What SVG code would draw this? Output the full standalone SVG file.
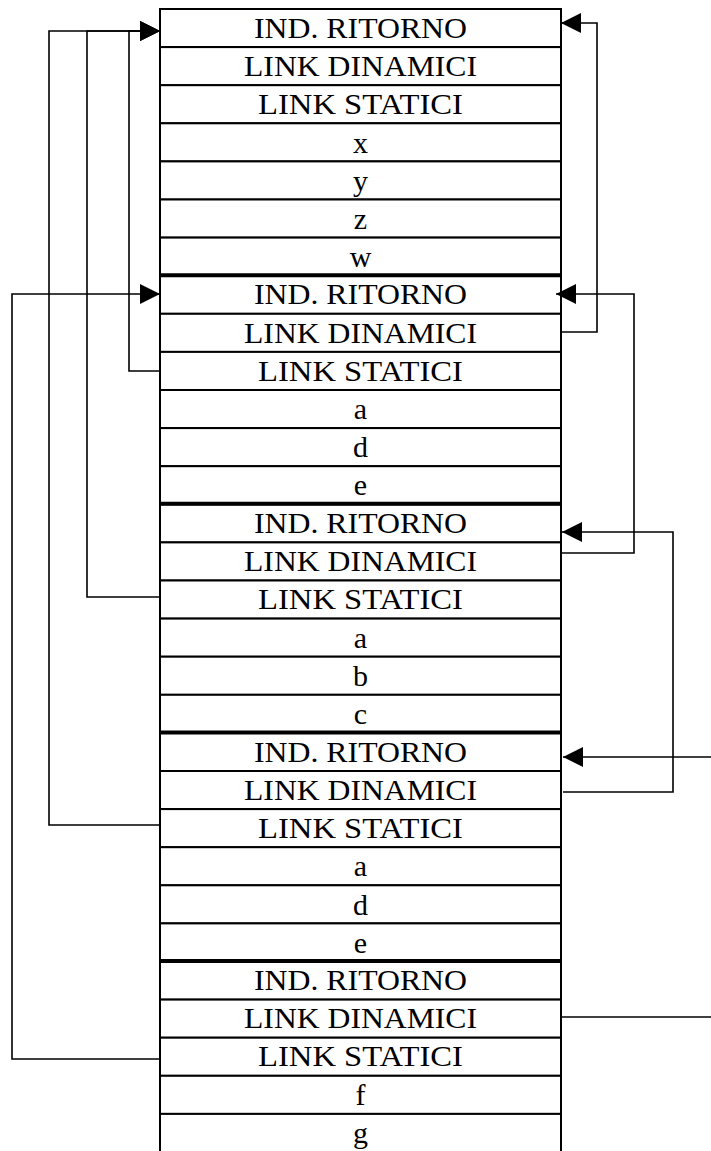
<svg xmlns="http://www.w3.org/2000/svg" width="711" height="1151" viewBox="0 0 711 1151">
<style>
.cell rect{fill:#fff;stroke:#000;stroke-width:2}
.cell text{font-family:"Liberation Serif","Times New Roman",serif;font-size:30px;fill:#000;text-anchor:middle}
.sep{stroke:#000;stroke-width:4}
.conn path{fill:none;stroke:#000;stroke-width:1.6}
</style>
<defs>
<marker id="ah" markerUnits="userSpaceOnUse" markerWidth="20" markerHeight="20" refX="20" refY="10" orient="auto" viewBox="0 0 20 20">
<path d="M0,0 L20,10 L0,20 z" fill="#000"/>
</marker>
</defs>
<g id="frame1">
<g id="f1-ind" class="cell"><rect x="160" y="9" width="401" height="38.1"/><text x="360.5" y="37.7" textLength="213" lengthAdjust="spacingAndGlyphs">IND. RITORNO</text></g>
<g id="f1-dyn" class="cell"><rect x="160" y="47.1" width="401" height="38.1"/><text x="360.5" y="75.8" textLength="233" lengthAdjust="spacingAndGlyphs">LINK DINAMICI</text></g>
<g id="f1-sta" class="cell"><rect x="160" y="85.2" width="401" height="38.1"/><text x="360.5" y="113.9" textLength="205" lengthAdjust="spacingAndGlyphs">LINK STATICI</text></g>
<g id="f1-x" class="cell"><rect x="160" y="123.3" width="401" height="38.1"/><text x="360.5" y="152.5">x</text></g>
<g id="f1-y" class="cell"><rect x="160" y="161.4" width="401" height="38.1"/><text x="360.5" y="190.6">y</text></g>
<g id="f1-z" class="cell"><rect x="160" y="199.5" width="401" height="38.1"/><text x="360.5" y="228.7">z</text></g>
<g id="f1-w" class="cell"><rect x="160" y="237.6" width="401" height="38.1"/><text x="360.5" y="266.8">w</text></g>
</g>
<g id="frame2">
<g id="f2-ind" class="cell"><rect x="160" y="275.7" width="401" height="38.1"/><text x="360.5" y="304.4" textLength="213" lengthAdjust="spacingAndGlyphs">IND. RITORNO</text></g>
<g id="f2-dyn" class="cell"><rect x="160" y="313.8" width="401" height="38.1"/><text x="360.5" y="342.5" textLength="233" lengthAdjust="spacingAndGlyphs">LINK DINAMICI</text></g>
<g id="f2-sta" class="cell"><rect x="160" y="351.9" width="401" height="38.1"/><text x="360.5" y="380.6" textLength="205" lengthAdjust="spacingAndGlyphs">LINK STATICI</text></g>
<g id="f2-a" class="cell"><rect x="160" y="390" width="401" height="38.1"/><text x="360.5" y="419.2">a</text></g>
<g id="f2-d" class="cell"><rect x="160" y="428.1" width="401" height="38.1"/><text x="360.5" y="457.3">d</text></g>
<g id="f2-e" class="cell"><rect x="160" y="466.2" width="401" height="38.1"/><text x="360.5" y="495.4">e</text></g>
</g>
<g id="frame3">
<g id="f3-ind" class="cell"><rect x="160" y="504.3" width="401" height="38.1"/><text x="360.5" y="533" textLength="213" lengthAdjust="spacingAndGlyphs">IND. RITORNO</text></g>
<g id="f3-dyn" class="cell"><rect x="160" y="542.4" width="401" height="38.1"/><text x="360.5" y="571.1" textLength="233" lengthAdjust="spacingAndGlyphs">LINK DINAMICI</text></g>
<g id="f3-sta" class="cell"><rect x="160" y="580.5" width="401" height="38.1"/><text x="360.5" y="609.2" textLength="205" lengthAdjust="spacingAndGlyphs">LINK STATICI</text></g>
<g id="f3-a" class="cell"><rect x="160" y="618.6" width="401" height="38.1"/><text x="360.5" y="647.8">a</text></g>
<g id="f3-b" class="cell"><rect x="160" y="656.7" width="401" height="38.1"/><text x="360.5" y="685.9">b</text></g>
<g id="f3-c" class="cell"><rect x="160" y="694.8" width="401" height="38.1"/><text x="360.5" y="724">c</text></g>
</g>
<g id="frame4">
<g id="f4-ind" class="cell"><rect x="160" y="732.9" width="401" height="38.1"/><text x="360.5" y="761.6" textLength="213" lengthAdjust="spacingAndGlyphs">IND. RITORNO</text></g>
<g id="f4-dyn" class="cell"><rect x="160" y="771" width="401" height="38.1"/><text x="360.5" y="799.7" textLength="233" lengthAdjust="spacingAndGlyphs">LINK DINAMICI</text></g>
<g id="f4-sta" class="cell"><rect x="160" y="809.1" width="401" height="38.1"/><text x="360.5" y="837.8" textLength="205" lengthAdjust="spacingAndGlyphs">LINK STATICI</text></g>
<g id="f4-a" class="cell"><rect x="160" y="847.2" width="401" height="38.1"/><text x="360.5" y="876.4">a</text></g>
<g id="f4-d" class="cell"><rect x="160" y="885.3" width="401" height="38.1"/><text x="360.5" y="914.5">d</text></g>
<g id="f4-e" class="cell"><rect x="160" y="923.4" width="401" height="38.1"/><text x="360.5" y="952.6">e</text></g>
</g>
<g id="frame5">
<g id="f5-ind" class="cell"><rect x="160" y="961.5" width="401" height="38.1"/><text x="360.5" y="990.2" textLength="213" lengthAdjust="spacingAndGlyphs">IND. RITORNO</text></g>
<g id="f5-dyn" class="cell"><rect x="160" y="999.6" width="401" height="38.1"/><text x="360.5" y="1028.3" textLength="233" lengthAdjust="spacingAndGlyphs">LINK DINAMICI</text></g>
<g id="f5-sta" class="cell"><rect x="160" y="1037.7" width="401" height="38.1"/><text x="360.5" y="1066.4" textLength="205" lengthAdjust="spacingAndGlyphs">LINK STATICI</text></g>
<g id="f5-f" class="cell"><rect x="160" y="1075.8" width="401" height="38.1"/><text x="360.5" y="1105">f</text></g>
<g id="f5-g" class="cell"><rect x="160" y="1113.9" width="401" height="40"/><text x="360.5" y="1143">g</text></g>
</g>
<g id="separators">
<line class="sep" x1="160" y1="275.2" x2="561" y2="275.2"/>
<line class="sep" x1="160" y1="503.8" x2="561" y2="503.8"/>
<line class="sep" x1="160" y1="732.4" x2="561" y2="732.4"/>
<line class="sep" x1="160" y1="961" x2="561" y2="961"/>
</g>
<g id="connectors" class="conn">
<path d="M160,825 H49 V31 H160" marker-end="url(#ah)"/>
<path d="M160,597 H87 V31 H160" marker-end="url(#ah)"/>
<path d="M160,371 H129 V31 H160" marker-end="url(#ah)"/>
<path d="M160,1059 H12 V294 H160" marker-end="url(#ah)"/>
<path d="M560,332 H597 V23 H561" marker-end="url(#ah)"/>
<path d="M561,553 H634 V294 H556" marker-end="url(#ah)"/>
<path d="M563,792 H673 V532 H562" marker-end="url(#ah)"/>
<path d="M711,757 H563" marker-end="url(#ah)"/>
<path d="M561,1017 H711"/>
</g>
</svg>
